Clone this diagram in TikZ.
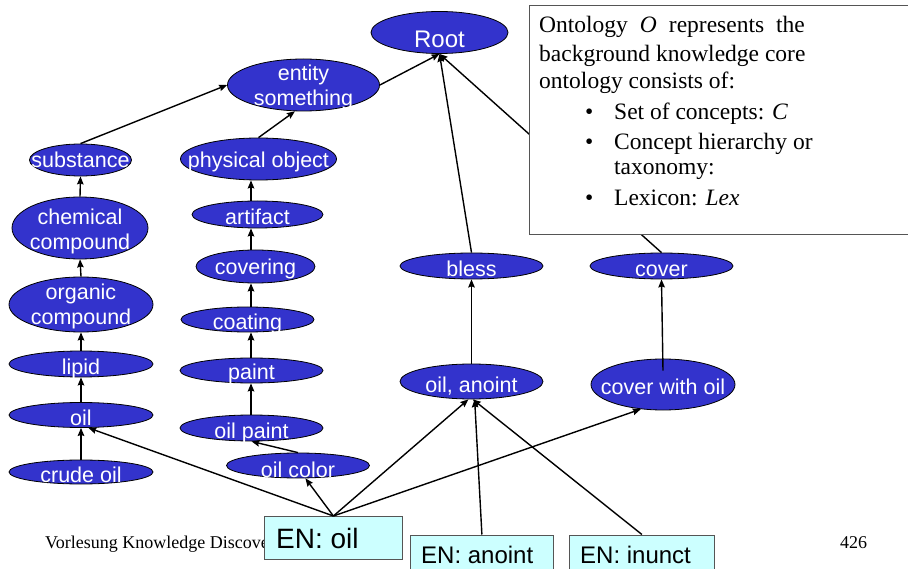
\documentclass[tikz,border=0pt]{standalone}
\usepackage{fontspec}
\setmainfont{Liberation Serif}
\newfontfamily\sansf{Liberation Sans}
\usetikzlibrary{arrows.meta,shapes.geometric}
\definecolor{conceptblue}{HTML}{3333CC}
\definecolor{lexcyan}{HTML}{CCFFFF}
\definecolor{framegray}{HTML}{555555}

\begin{document}
\begin{tikzpicture}[x=1pt,y=-1pt,
  concept/.style 2 args={ellipse, draw=black, line width=0.8pt, fill=conceptblue,
    minimum width=#1pt, minimum height=#2pt, inner sep=0pt},
  lbl/.style={text=white, font=\sansf\fontsize{21.5}{24}\selectfont,
    text height=15pt, text depth=5pt, inner sep=0pt},
  conn/.style={line width=1.4pt, -{Stealth[length=8pt,width=6.5pt,inset=1pt]}},
  lexbox/.style={draw=framegray, line width=0.8pt, fill=lexcyan, inner sep=0pt, anchor=north west},
  lextext/.style={anchor=base west, inner sep=0pt, font=\sansf\fontsize{24}{28}\selectfont},
  infotext/.style={anchor=base west, inner sep=0pt, font=\fontsize{23.5}{27}\selectfont},
  foot/.style={anchor=base west, inner sep=0pt, font=\fontsize{18}{20}\selectfont}]

\clip (0,0) rectangle (908,569);
\fill[white] (0,0) rectangle (908,569);

% footer line of the slide
\node[foot] (lecture) at (45,548) {Vorlesung Knowledge Discove};
\node[foot] (page) at (840,548) {426};

% concept hierarchy
\node[concept={137}{42}, label={[lbl,yshift=-10.5pt,font=\sansf\fontsize{24}{26}\selectfont]center:Root}] (root) at (439.5,32.5) {};
\node[concept={152}{52}, label={[lbl,yshift=9pt]center:entity}, label={[lbl,yshift=-16pt]center:something}] (entity) at (303.5,85) {};
\node[concept={102}{32}, label={[lbl,yshift=-3pt]center:substance}] (substance) at (80.5,160) {};
\node[concept={156}{42}, label={[lbl,yshift=-4pt]center:physical object}] (physobj) at (258.5,159) {};
\node[concept={136}{62}, label={[lbl,yshift=8pt]center:chemical}, label={[lbl,yshift=-17pt]center:compound}] (chem) at (80,228) {};
\node[concept={131}{27}, label={[lbl,yshift=-5.5pt]center:artifact}] (artifact) at (257.5,214.5) {};
\node[concept={119}{33}, label={[lbl,yshift=-3.5pt]center:covering}] (covering) at (255.5,266.5) {};
\node[concept={144}{55}, label={[lbl,yshift=9.5pt]center:organic}, label={[lbl,yshift=-15.5pt]center:compound}] (organic) at (81,304.5) {};
\node[concept={133}{25}, label={[lbl,yshift=-5.5pt]center:coating}] (coating) at (247.5,319.5) {};
\node[concept={144}{26}, label={[lbl,yshift=-5pt]center:lipid}] (lipid) at (81,364) {};
\node[concept={143}{25}, label={[lbl,yshift=-4.5pt]center:paint}] (paint) at (251.5,370.5) {};
\node[concept={144}{25}, label={[lbl,yshift=-5pt]center:oil}] (oil) at (81,415) {};
\node[concept={143}{26}, label={[lbl,yshift=-5pt]center:oil paint}] (oilpaint) at (251.5,428) {};
\node[concept={143}{25}, label={[lbl,yshift=-6.5pt]center:oil color}] (oilcolor) at (298,465.5) {};
\node[concept={144}{24}, label={[lbl,yshift=-5pt]center:crude oil}] (crude) at (81,472) {};
\node[concept={143}{26}, label={[lbl,yshift=-6pt]center:bless}] (bless) at (471.5,266) {};
\node[concept={143}{26}, label={[lbl,yshift=-6pt]center:cover}] (cover) at (661.5,266) {};
\node[concept={143}{35}, label={[lbl,yshift=-5.5pt]center:{oil, anoint}}] (anoint) at (471.5,381.5) {};
\node[concept={144}{51}, label={[lbl,yshift=-5.5pt]center:cover with oil}] (cwo) at (663,384.5) {};

% column line of the middle chain
\coordinate (midcol) at (251,0);

% is-a links
\draw[conn] (entity.east) -- (root.south);
\draw[conn] (substance.north) -- (entity.west);
\draw[conn] (physobj.north) -- (entity.-108);
\draw[conn] (chem.north) -- (substance.south);
\draw[conn] (organic.north) -- (chem.south);
\draw[conn] (lipid.north) -- (organic.south);
\draw[conn] (oil.north) -- (lipid.south);
\draw[conn] (crude.north) -- (oil.south);
\draw[conn] (artifact.north -| midcol) -- (physobj.south -| midcol);
\draw[conn] (covering.north -| midcol) -- (artifact.south -| midcol);
\draw[conn] (coating.north -| midcol) -- (covering.south -| midcol);
\draw[conn] (paint.north -| midcol) -- (coating.south -| midcol);
\draw[conn] (oilpaint.north -| midcol) -- (paint.south -| midcol);
\draw[conn] (oilcolor.north) -- (oilpaint.south);
\draw[conn] (bless.north) -- (root.south);
\draw[conn] (cover.north) -- (root.south);
\draw[conn] (anoint.north) -- (bless.south);
\draw[conn] ([yshift=-12pt]cwo.north) -- (cover.south);

% explanation box
\node[draw=framegray, fill=white, line width=0.8pt, inner sep=0pt, anchor=north west,
      minimum width=400pt, minimum height=228.5pt] (info) at (528.5,5.5) {};
\node[infotext] (l1) at (539,33) {\spaceskip=12pt Ontology \textit{O} represents the};
\node[infotext] (l2) at (539,61.5) {background knowledge core};
\node[infotext] (l3) at (539,88.5) {ontology consists of:};
\node[infotext] (b1) at (585,120) {•};
\node[infotext] (i1) at (614,120) {Set of concepts: \textit{C}};
\node[infotext] (b2) at (585,150) {•};
\node[infotext] (i2) at (614,150) {Concept hierarchy or};
\node[infotext] (i2b) at (614,175) {taxonomy:};
\node[infotext] (b3) at (585,206) {•};
\node[infotext] (i3) at (614,206) {Lexicon: \textit{Lex}};

% lexical entries
\node[lexbox, minimum width=138pt, minimum height=43pt] (enoil) at (264,516) {};
\node[lextext, font=\sansf\fontsize{28}{32}\selectfont] (enoiltext) at (276,548) {EN: oil};
\node[lexbox, minimum width=143pt, minimum height=50pt] (enanoint) at (410,534.5) {};
\node[lextext] (enanointtext) at (421,563) {EN: anoint};
\node[lexbox, minimum width=145pt, minimum height=50pt] (eninunct) at (569,534.5) {};
\node[lextext] (eninuncttext) at (580,563) {EN: inunct};

% lexical links
\draw[conn] (enoil.north) -- (oil.-60);
\draw[conn] (enoil.north) -- (oilcolor.-60);
\draw[conn] (enoil.north) -- (anoint.-100);
\draw[conn] (enoil.north) -- (cwo.-132);
\draw[conn] (enanoint.north) -- (anoint.-80);
\draw[conn] (eninunct.north) -- (anoint.-86);
\end{tikzpicture}
\end{document}
